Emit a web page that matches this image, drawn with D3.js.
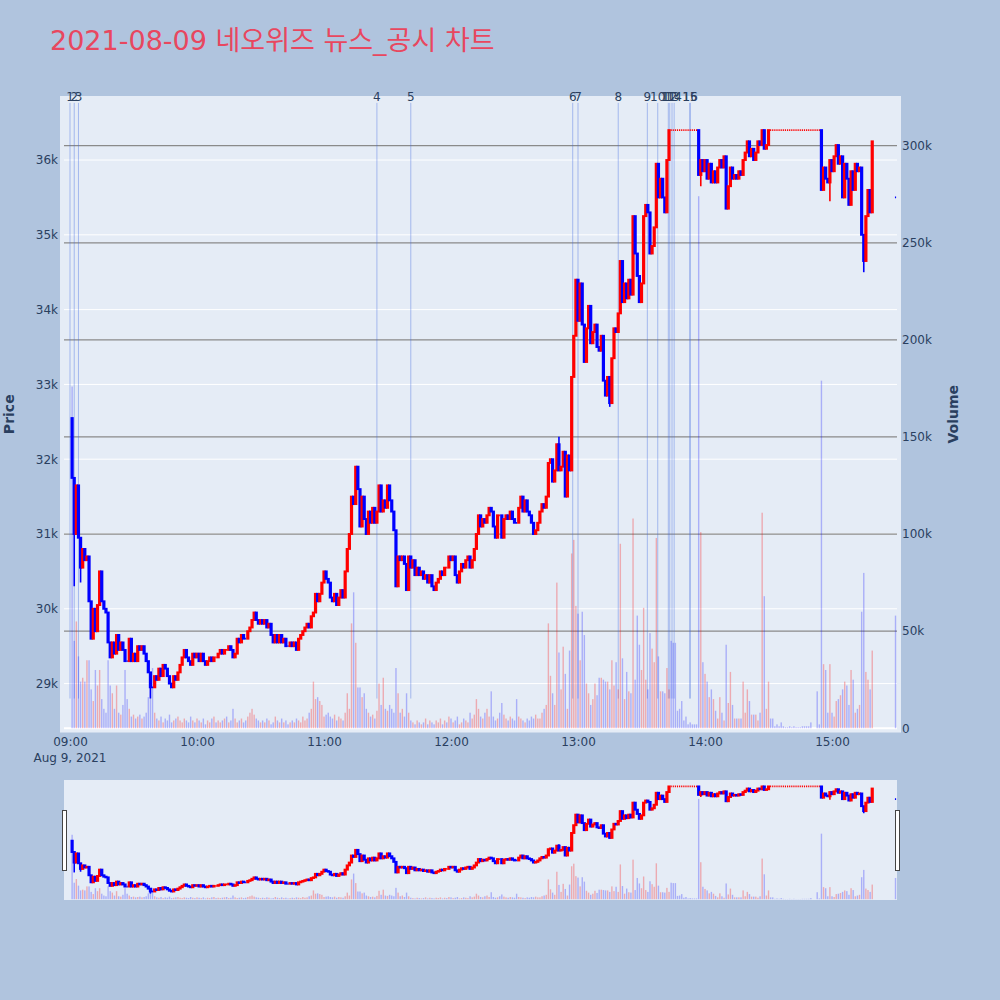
<!DOCTYPE html>
<html>
<head>
<meta charset="utf-8">
<script src="https://cdn.jsdelivr.net/npm/d3@7/dist/d3.min.js"></script>
<style>
  body { margin: 0; background: #b0c4de; }
  svg { display: block; font-family: "DejaVu Sans", "Noto Sans CJK KR", sans-serif; }
</style>
</head>
<body>
<div id="chart"></div>
<script>
'use strict';

// ---- data (1-minute candles from 09:01) ----
const title = "2021-08-09 네오위즈 뉴스_공시 차트";
const day = [2021, 7, 9];
const firstOpen = 32550;
const closes = [
  31750, 31000, 31650, 30950, 30550, 30800, 30650, 30700, 30100, 29600,
  30000, 29700, 30050, 30500, 30100, 30000, 29950, 29550, 29350, 29550,
  29400, 29650, 29450, 29550, 29450, 29300, 29300, 29600, 29300, 29400,
  29300, 29500, 29450, 29500, 29400, 29300, 29150, 28950, 28950, 29100,
  29050, 29200, 29100, 29250, 29200, 29100, 29000, 28950, 29100, 29050,
  29150, 29250, 29350, 29450, 29350, 29300, 29250, 29400, 29350, 29400,
  29300, 29400, 29300, 29250, 29300, 29350, 29300, 29350, 29350, 29400,
  29450, 29400, 29450, 29450, 29500, 29450, 29350, 29400, 29600, 29550,
  29650, 29600, 29600, 29700, 29750, 29850, 29950, 29850, 29800, 29850,
  29800, 29850, 29750, 29800, 29650, 29550, 29650, 29550, 29650, 29550,
  29600, 29500, 29500, 29550, 29500, 29550, 29450, 29600, 29650, 29700,
  29750, 29800, 29750, 29900, 29950, 30200, 30100, 30200, 30350, 30500,
  30400, 30350, 30150, 30100, 30200, 30050, 30150, 30250, 30150, 30500,
  30800, 31000, 31500, 31400, 31900, 31600, 31100, 31500, 31200, 31000,
  31300, 31150, 31350, 31150, 31300, 31650, 31300, 31450, 31350, 31650,
  31450, 31300, 31050, 30300, 30700, 30650, 30700, 30600, 30250, 30700,
  30550, 30650, 30450, 30550, 30450, 30500, 30400, 30450, 30350, 30450,
  30300, 30250, 30350, 30400, 30500, 30450, 30550, 30550, 30700, 30650,
  30700, 30450, 30350, 30500, 30600, 30550, 30650, 30700, 30550, 30650,
  30800, 31000, 31250, 31100, 31200, 31150, 31250, 31350, 31300, 31100,
  30950, 31250, 31250, 30950, 31200, 31250, 31200, 31300, 31200, 31150,
  31150, 31350, 31500, 31300, 31450, 31300, 31250, 31150, 31000, 31050,
  31150, 31300, 31400, 31350, 31500, 31950, 32000, 31700, 31850, 32200,
  31850, 31900, 32100, 31500, 32050, 31850, 33100, 33650, 34400, 33850,
  34350, 33800, 33300, 33750, 34050, 33550, 33700, 33800, 33500, 33450,
  33650, 33050, 32850, 33100, 32750, 33350, 33750, 33700, 33950, 34650,
  34100, 34350, 34150, 34400, 34200, 35250, 34750, 34450, 34100, 34350,
  35250, 35400, 35300, 34750, 34850, 35100, 35950, 35500, 35750, 35500,
  35300, 36000, 36400, 36400, 36400, 36400, 36400, 36400, 36400, 36400,
  36400, 36400, 36400, 36400, 36400, 36400, 35800, 36000, 35850, 36000,
  35750, 35950, 35700, 35850, 35700, 35900, 36000, 35900, 36050, 35350,
  35650, 35900, 35750, 35800, 35750, 35850, 35800, 36000, 36100, 36250,
  36050, 36150, 36000, 36100, 36250, 36200, 36400, 36150, 36200, 36400,
  36400, 36400, 36400, 36400, 36400, 36400, 36400, 36400, 36400, 36400,
  36400, 36400, 36400, 36400, 36400, 36400, 36400, 36400, 36400, 36400,
  36400, 36400, 36400, 36400, 35600, 35900, 35750, 35700, 36000, 35850,
  36050, 36200, 35950, 36050, 35500, 35950, 35750, 35400, 35850, 35600,
  35950, 35850, 35900, 35000, 34650, 35250, 35600, 35300, 36250
];
// volume in thousand shares, same minutes as closes
const volumesK = [
  176, 45, 55, 37, 24, 26, 24, 35, 35, 20,
  14, 30, 22, 30, 15, 10, 8, 35, 22, 18,
  10, 22, 8, 7, 12, 30, 15, 10, 6, 7,
  5, 6, 7, 5, 6, 8, 16, 23, 31, 8,
  5, 4, 6, 3, 5, 4, 7, 3, 4, 5,
  6, 4, 3, 5, 4, 3, 6, 4, 3, 5,
  4, 3, 5, 2, 4, 3, 5, 6, 3, 4,
  3, 4, 5, 6, 3, 4, 10, 5, 3, 4,
  5, 3, 4, 6, 8, 10, 7, 5, 4, 3,
  4, 3, 5, 4, 2, 3, 6, 4, 3, 5,
  3, 4, 2, 3, 4, 3, 5, 4, 3, 6,
  4, 5, 8, 10, 24, 15, 16, 14, 12, 6,
  7, 8, 6, 5, 7, 4, 6, 5, 4, 8,
  18, 10, 54, 70, 44, 21, 21, 16, 18, 10,
  8, 6, 7, 5, 9, 23, 12, 26, 10, 9,
  12, 10, 8, 31, 18, 8, 10, 6, 18, 8,
  4, 3, 2, 4, 3, 2, 3, 5, 2, 4,
  3, 2, 4, 3, 5, 2, 4, 3, 6, 5,
  3, 4, 6, 2, 3, 5, 4, 3, 8, 5,
  7, 15, 10, 6, 5, 8, 10, 6, 19, 6,
  4, 5, 8, 13, 7, 5, 4, 6, 5, 4,
  15, 6, 5, 4, 3, 5, 4, 6, 5, 7,
  5, 5, 8, 10, 12, 54, 27, 18, 12, 75,
  39, 20, 42, 28, 10, 40, 90, 97, 63, 59,
  35, 60, 48, 23, 18, 12, 15, 23, 17, 26,
  26, 25, 24, 24, 20, 35, 22, 34, 20, 95,
  36, 15, 29, 19, 18, 108, 25, 58, 43, 30,
  62, 25, 20, 49, 41, 34, 98, 37, 19, 19,
  18, 31, 20, 45, 44, 44, 9, 10, 14, 4,
  6, 2, 3, 2, 2, 2, 274, 101, 34, 28,
  24, 16, 20, 15, 9, 5, 16, 8, 4, 43,
  13, 29, 12, 5, 5, 5, 5, 24, 8, 20,
  14, 7, 7, 7, 4, 8, 111, 68, 10, 24,
  5, 5, 1, 2, 1, 3, 1, 0.5, 0.5, 1,
  0.5, 1, 0.5, 0.5, 0.5, 1, 1, 1, 1, 3,
  0, 0, 19, 2, 179, 33, 30, 8, 33, 8,
  6, 14, 15, 17, 20, 24, 22, 12, 30, 25,
  8, 10, 12, 60, 80, 29, 25, 20, 40
];
const auction = {time: "15:30", price: 35500, volumeK: 58};
// [minute number, price] wicks that reach past the body
const extraLows = [[2, 30300], [5, 30350], [38, 28800], [255, 32700], [298, 35650], [359, 35450], [375, 34500]];
const extraHighs = [[231, 32300]];

const newsTimes = ["09:00:00", "09:02:00", "09:04:00", "11:25:00", "11:41:00", "12:57:30",
  "13:00:00", "13:19:00", "13:32:45", "13:37:40", "13:42:40", "13:43:20", "13:44:25",
  "13:45:25", "13:52:50", "13:53:00"];

const priceTicks = [29000, 30000, 31000, 32000, 33000, 34000, 35000, 36000];
const volumeTicks = [0, 50000, 100000, 150000, 200000, 250000, 300000];
const hourTicks = ["09:00", "10:00", "11:00", "12:00", "13:00", "14:00", "15:00"];

// ---- layout ----
const W = 1000, H = 1000;
const plot = {left: 64, right: 897, top: 96, bottom: 732.5};
const slider = {top: 780, bottom: 900};
const priceRange = [28346, 36856];
const volumeRange = [-2200, 325600];
const textColor = "#2a3f5f";

function at(hms){
    const p = hms.split(":").map(Number);
    return new Date(day[0], day[1], day[2], p[0], p[1], p[2] || 0);
}

// build candles
const candles = closes.map((c, i) => {
    const o = i === 0 ? firstOpen : closes[i - 1];
    return {time: new Date(at("09:01").getTime() + i * 60000), open: o, close: c,
        high: Math.max(o, c), low: Math.min(o, c), volume: volumesK[i] * 1000};
});
candles.push({time: at(auction.time), open: auction.price, close: auction.price,
    high: auction.price, low: auction.price, volume: auction.volumeK * 1000});
for(const [m, v] of extraLows){ candles[m - 1].low = v; }
for(const [m, v] of extraHighs){ candles[m - 1].high = v; }

// candle colour like plotly: flat candles follow the previous close
let prevInc = false;
candles.forEach((d, i) => {
    let inc;
    if(d.close > d.open) inc = true;
    else if(d.close < d.open) inc = false;
    else if(i > 0 && d.close !== candles[i - 1].close) inc = d.close > candles[i - 1].close;
    else inc = prevInc;
    d.inc = inc;
    prevInc = inc;
});

const newsTop = d3.max(candles, d => d.high) * 1.01;
const newsBottom = d3.min(candles, d => d.low);

const x = d3.scaleTime()
    .domain([at("08:57:10"), at("15:30:42")])
    .range([plot.left, plot.right]);

const svg = d3.select("#chart").append("svg")
    .attr("width", W)
    .attr("height", H);

svg.append("rect").attr("width", W).attr("height", H).attr("fill", "#b0c4de");

const defs = svg.append("defs");
defs.append("clipPath").attr("id", "clip-main").append("rect")
    .attr("x", 60).attr("y", plot.top).attr("width", 841).attr("height", plot.bottom - plot.top);
defs.append("clipPath").attr("id", "clip-slider").append("rect")
    .attr("x", plot.left).attr("y", slider.top).attr("width", plot.right - plot.left)
    .attr("height", slider.bottom - slider.top);

function drawSeries(container, yP, yV){
    const step = x(at("09:01")) - x(at("09:00"));
    const bw = 1.3;          // body width inside the outline
    const flatW = step * 0.55;

    // candles
    const cg = container.append("g").attr("class", "candles");
    for(const d of candles){
        const cx = x(d.time);
        const col = d.inc ? "#ff0000" : "#0000ff";
        if(d.high > Math.max(d.open, d.close) || d.low < Math.min(d.open, d.close)){
            cg.append("line")
                .attr("x1", cx).attr("x2", cx)
                .attr("y1", yP(d.high)).attr("y2", yP(d.low))
                .attr("stroke", col).attr("stroke-width", 1.6);
        }
        if(d.open === d.close){
            cg.append("line")
                .attr("x1", cx - flatW / 2).attr("x2", cx + flatW / 2)
                .attr("y1", yP(d.close)).attr("y2", yP(d.close))
                .attr("stroke", col).attr("stroke-width", 1.8);
        }else{
            const top = yP(Math.max(d.open, d.close));
            const bot = yP(Math.min(d.open, d.close));
            cg.append("rect")
                .attr("x", cx - bw / 2).attr("width", bw)
                .attr("y", top).attr("height", bot - top)
                .attr("fill", col).attr("stroke", col).attr("stroke-width", 1.9);
        }
    }

    // volume bars
    container.append("g").attr("class", "volume")
        .selectAll("rect").data(candles).join("rect")
        .attr("x", d => x(d.time) - 0.7)
        .attr("width", 1.4)
        .attr("y", d => yV(d.volume))
        .attr("height", d => yV(0) - yV(d.volume))
        .attr("fill", d => d.close > d.open ? "rgba(255,0,0,0.28)" : "rgba(0,0,255,0.26)");
}

// ---- main panel ----
const yPrice = d3.scaleLinear().domain(priceRange).range([plot.bottom, plot.top]);
const yVol = d3.scaleLinear().domain(volumeRange).range([plot.bottom, plot.top]);

svg.append("rect")
    .attr("x", 60).attr("y", plot.top)
    .attr("width", 841).attr("height", plot.bottom - plot.top)
    .attr("fill", "#e5ecf6");

// gridlines
const grid = svg.append("g").attr("class", "grid");
grid.selectAll("line.pg").data(priceTicks).join("line")
    .attr("class", "pg")
    .attr("x1", plot.left).attr("x2", plot.right)
    .attr("y1", d => yPrice(d)).attr("y2", d => yPrice(d))
    .attr("stroke", "#ffffff").attr("stroke-width", 1);
grid.selectAll("line.vg").data(volumeTicks.filter(v => v > 0)).join("line")
    .attr("class", "vg")
    .attr("x1", plot.left).attr("x2", plot.right)
    .attr("y1", d => yVol(d)).attr("y2", d => yVol(d))
    .attr("stroke", "#8a8a8a").attr("stroke-width", 1.3);
grid.append("line")
    .attr("x1", plot.left).attr("x2", plot.right)
    .attr("y1", yVol(0)).attr("y2", yVol(0))
    .attr("stroke", "#ffffff").attr("stroke-width", 2);

const main = svg.append("g").attr("clip-path", "url(#clip-main)");

// news lines
main.append("g").attr("class", "news")
    .selectAll("line").data(newsTimes).join("line")
    .attr("x1", d => x(at(d))).attr("x2", d => x(at(d)))
    .attr("y1", yPrice(newsTop)).attr("y2", yPrice(newsBottom))
    .attr("stroke", "rgba(65,105,225,0.4)").attr("stroke-width", 1);

drawSeries(main, yPrice, yVol);

svg.append("g").attr("class", "news-labels")
    .selectAll("text").data(newsTimes).join("text")
    .attr("x", d => x(at(d)))
    .attr("y", yPrice(newsTop) - 1.5)
    .attr("text-anchor", "middle")
    .attr("font-size", 12)
    .attr("fill", textColor)
    .text((d, i) => i + 1);

// axes
const axisLeft = svg.append("g")
    .attr("transform", `translate(${plot.left - 6},0)`)
    .call(d3.axisLeft(yPrice).tickValues(priceTicks).tickSize(0).tickPadding(0)
        .tickFormat(d => d / 1000 + "k"));
const axisRight = svg.append("g")
    .attr("transform", `translate(${plot.right + 5},0)`)
    .call(d3.axisRight(yVol).tickValues(volumeTicks).tickSize(0).tickPadding(0)
        .tickFormat(d => d === 0 ? "0" : d / 1000 + "k"));
const axisBottom = svg.append("g")
    .attr("transform", `translate(0,${plot.bottom + 2})`)
    .call(d3.axisBottom(x).tickValues(hourTicks.map(h => at(h))).tickSize(0).tickPadding(0)
        .tickFormat(d3.timeFormat("%H:%M")));
for(const a of [axisLeft, axisRight, axisBottom]){
    a.select(".domain").remove();
    a.selectAll("text")
        .attr("font-size", 12)
        .attr("fill", textColor)
        .attr("font-family", "'DejaVu Sans', sans-serif");
}
axisBottom.selectAll("text").attr("dy", "0.71em").attr("y", 3);

svg.append("text")
    .attr("x", x(at("09:00")))
    .attr("y", 762)
    .attr("text-anchor", "middle")
    .attr("font-size", 12)
    .attr("fill", textColor)
    .text("Aug 9, 2021");

svg.append("text")
    .attr("transform", `translate(14,${(plot.top + plot.bottom) / 2}) rotate(-90)`)
    .attr("text-anchor", "middle")
    .attr("font-size", 14)
    .attr("font-weight", "bold")
    .attr("fill", textColor)
    .text("Price");
svg.append("text")
    .attr("transform", `translate(958,${(plot.top + plot.bottom) / 2}) rotate(-90)`)
    .attr("text-anchor", "middle")
    .attr("font-size", 14)
    .attr("font-weight", "bold")
    .attr("fill", textColor)
    .text("Volume");

svg.append("text")
    .attr("x", 50)
    .attr("y", 50)
    .attr("font-size", 27)
    .attr("fill", "#e8475f")
    .text(title);

// ---- range slider ----
const ySPrice = d3.scaleLinear().domain(priceRange).range([slider.bottom, slider.top]);
const ySVol = d3.scaleLinear().domain(volumeRange).range([slider.bottom, slider.top]);

svg.append("rect")
    .attr("x", plot.left).attr("y", slider.top)
    .attr("width", plot.right - plot.left).attr("height", slider.bottom - slider.top)
    .attr("fill", "#e5ecf6");
const mini = svg.append("g").attr("clip-path", "url(#clip-slider)");
drawSeries(mini, ySPrice, ySVol);

const handleH = (slider.bottom - slider.top) / 2;
for(const hx of [plot.left, plot.right]){
    svg.append("rect")
        .attr("x", hx - 2).attr("y", (slider.top + slider.bottom) / 2 - handleH / 2)
        .attr("width", 4).attr("height", handleH)
        .attr("fill", "#ffffff").attr("stroke", "#444").attr("stroke-width", 1)
        .attr("shape-rendering", "crispEdges");
}
</script>
</body>
</html>
